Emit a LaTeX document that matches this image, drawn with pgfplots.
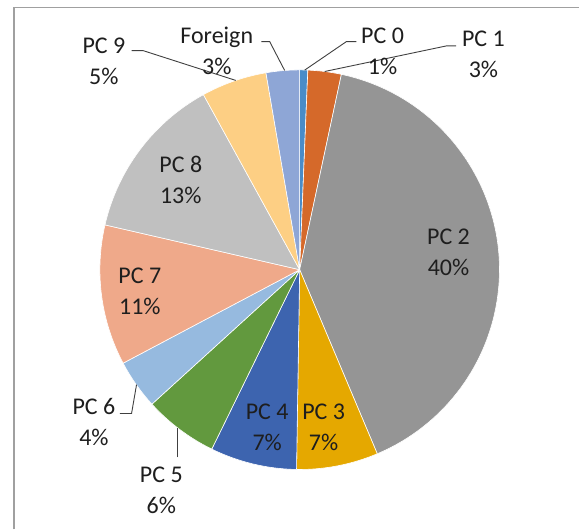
\documentclass[border=0pt]{standalone}
\usepackage{pgfplots}
\pgfplotsset{compat=1.18}
\usepackage{pgfplotstable}
\usepackage{fontspec}
\setmainfont{Carlito}

\definecolor{sc0}{HTML}{4A8CC8}
\definecolor{sc1}{HTML}{D5692A}
\definecolor{sc2}{HTML}{959595}
\definecolor{sc3}{HTML}{E5A800}
\definecolor{sc4}{HTML}{3D64AF}
\definecolor{sc5}{HTML}{62993E}
\definecolor{sc6}{HTML}{96BADF}
\definecolor{sc7}{HTML}{EFA98A}
\definecolor{sc8}{HTML}{C0C0C0}
\definecolor{sc9}{HTML}{FDCF84}
\definecolor{sc10}{HTML}{8EA6D6}
\definecolor{lblc}{HTML}{1E1E1E}
\definecolor{leadc}{HTML}{404040}
\definecolor{framec}{HTML}{A0A0A0}

% share of each slice, in percent, clockwise from 12 o'clock
\pgfplotstableread{
name value
PC0 0.65
PC1 2.7
PC2 40.3
PC3 6.6
PC4 7.0
PC5 6.0
PC6 4.0
PC7 11.35
PC8 13.4
PC9 5.3
Foreign 2.7
}\piedata

\begin{document}
\begin{tikzpicture}
\begin{axis}[width=580bp,height=530bp,scale only axis,
  xmin=0,xmax=580,ymin=0,ymax=530,y dir=reverse,
  hide axis,clip=false]
\path (axis cs:0,0) rectangle (axis cs:580,530);
% frame
\draw[framec,line width=1.3bp] (axis cs:14,530) -- (axis cs:14,7.5) -- (axis cs:580,7.5);
% slices
\def\cum{0}
\pgfplotsforeachungrouped \i in {0,...,10}{%
  \pgfplotstablegetelem{\i}{value}\of\piedata
  \pgfmathsetmacro\a{90-3.6*\cum}%
  \pgfmathsetmacro\newcum{\cum+\pgfplotsretval}%
  \pgfmathsetmacro\b{90-3.6*\newcum}%
  \edef\cmd{\noexpand\fill[sc\i, draw=white, line width=0.6bp, line join=round] (axis cs:300,270) -- ++(\a:200bp) arc[start angle=\a, end angle=\b, radius=200bp] -- cycle;}%
  \cmd
  \let\cum\newcum
}
% leader lines
\draw[leadc,line width=0.9bp] (axis cs:131.7,50.7) -- (axis cs:143.3,50.7) -- (axis cs:236,80.5);
\draw[leadc,line width=0.9bp] (axis cs:261.7,41.7) -- (axis cs:270,41.7) -- (axis cs:285,70.6);
\draw[leadc,line width=0.9bp] (axis cs:356.7,41.7) -- (axis cs:346.7,41.7) -- (axis cs:305,70.2);
\draw[leadc,line width=0.9bp] (axis cs:456.7,46) -- (axis cs:446.7,46) -- (axis cs:325,71.6);
\draw[leadc,line width=0.9bp] (axis cs:120,414) -- (axis cs:131.7,414) -- (axis cs:136.7,385);
\draw[leadc,line width=0.9bp] (axis cs:177.7,458) -- (axis cs:177.7,428);
% labels
\tikzset{lbl/.style={align=center,inner sep=0pt,font=\fontsize{24bp}{31bp}\selectfont,text=lblc}}
\node[lbl] at (axis cs:383,51) {PC 0\\1\%};
\node[lbl] at (axis cs:484,54) {PC 1\\3\%};
\node[lbl] at (axis cs:449,253) {PC 2\\40\%};
\node[lbl] at (axis cs:324,428) {PC 3\\7\%};
\node[lbl] at (axis cs:267.5,428) {PC 4\\7\%};
\node[lbl] at (axis cs:161.5,491) {PC 5\\6\%};
\node[lbl] at (axis cs:94,422) {PC 6\\4\%};
\node[lbl] at (axis cs:140,292) {PC 7\\11\%};
\node[lbl] at (axis cs:181,180) {PC 8\\13\%};
\node[lbl] at (axis cs:104,61) {PC 9\\5\%};
\node[lbl] at (axis cs:217,51) {Foreign\\3\%};
\end{axis}
\end{tikzpicture}
\end{document}
